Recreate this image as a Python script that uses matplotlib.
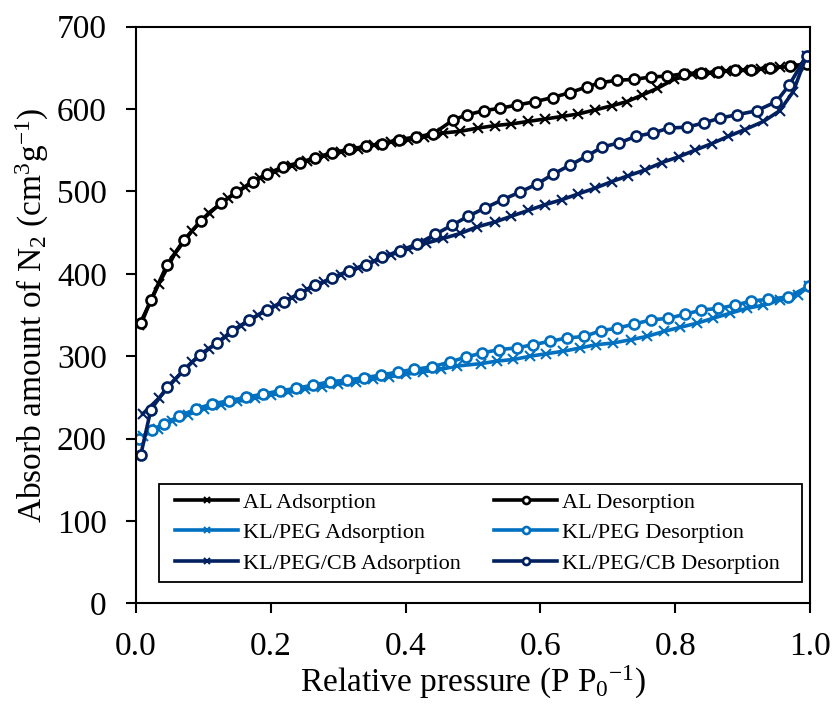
import matplotlib
matplotlib.use("Agg")
import matplotlib.pyplot as plt
from matplotlib.patches import Rectangle

plt.rcParams['font.family'] = ['Liberation Serif', 'DejaVu Serif']
plt.rcParams['mathtext.fontset'] = 'custom'
plt.rcParams['mathtext.rm'] = 'Liberation Serif'
plt.rcParams['mathtext.it'] = 'Liberation Serif:italic'

# ---- data ----
al_des_x = [0.008, 0.022, 0.046, 0.071, 0.096, 0.126, 0.149, 0.173, 0.194, 0.218, 0.243, 0.266, 0.291,
            0.316, 0.341, 0.365, 0.390, 0.415, 0.441, 0.471, 0.491, 0.516, 0.540, 0.566, 0.592, 0.618,
            0.644, 0.669, 0.689, 0.714, 0.739, 0.764, 0.788, 0.813, 0.838, 0.864, 0.889, 0.913, 0.940,
            0.970, 0.995]
al_des_y = [340, 368, 411, 441, 464, 486, 499, 512, 521, 530, 535, 541, 547, 551, 555, 558, 563, 566,
            570, 587, 593, 598, 601, 605, 609, 614, 620, 627, 632, 635, 636, 639, 640, 643, 644, 645,
            647, 648, 650, 652, 655]

al_ads_x = [0.005, 0.034, 0.058, 0.083, 0.108, 0.137, 0.161, 0.184, 0.206, 0.231, 0.254, 0.279, 0.304,
            0.329, 0.353, 0.378, 0.403, 0.428, 0.456, 0.481, 0.508, 0.533, 0.557, 0.582, 0.607, 0.632,
            0.656, 0.681, 0.706, 0.728, 0.751, 0.773, 0.798, 0.825, 0.851, 0.876, 0.901, 0.927, 0.955,
            0.982, 0.997]
al_ads_y = [338, 388, 425, 452, 474, 492, 505, 516, 524, 531, 537, 543, 548, 552, 556, 560, 563, 566,
            571, 573, 577, 580, 582, 585, 588, 591, 594, 599, 604, 609, 617, 625, 636, 642, 644, 646,
            647, 649, 651, 652, 655]

peg_des_x = [0.005, 0.023, 0.041, 0.064, 0.089, 0.113, 0.138, 0.163, 0.188, 0.214, 0.238, 0.263, 0.288,
             0.313, 0.339, 0.364, 0.389, 0.413, 0.439, 0.466, 0.490, 0.514, 0.539, 0.565, 0.589, 0.614,
             0.639, 0.665, 0.690, 0.714, 0.739, 0.764, 0.790, 0.815, 0.839, 0.864, 0.889, 0.913, 0.938,
             0.968, 0.998]
peg_des_y = [200, 210, 218, 227, 236, 242, 246, 250, 254, 258, 261, 265, 269, 271, 274, 277, 281, 284,
             287, 293, 299, 304, 308, 310, 314, 318, 322, 324, 331, 334, 339, 344, 346, 351, 356, 358,
             362, 367, 369, 372, 385]

peg_ads_x = [0.010, 0.032, 0.053, 0.077, 0.101, 0.126, 0.150, 0.176, 0.201, 0.226, 0.251, 0.276, 0.300,
             0.326, 0.351, 0.376, 0.401, 0.426, 0.452, 0.476, 0.512, 0.535, 0.560, 0.585, 0.609, 0.634,
             0.659, 0.683, 0.708, 0.734, 0.758, 0.783, 0.807, 0.832, 0.856, 0.881, 0.906, 0.931, 0.955,
             0.982, 0.998]
peg_ads_y = [203, 212, 221, 229, 236, 241, 245, 249, 253, 256, 260, 263, 266, 269, 272, 275, 278, 281,
             284, 288, 291, 294, 296, 300, 303, 306, 310, 314, 316, 320, 324, 330, 335, 340, 346, 352,
             358, 362, 368, 374, 385]

cb_des_x = [0.007, 0.022, 0.046, 0.071, 0.095, 0.120, 0.143, 0.168, 0.194, 0.219, 0.243, 0.266, 0.291,
            0.316, 0.341, 0.365, 0.391, 0.417, 0.444, 0.469, 0.493, 0.518, 0.544, 0.569, 0.595, 0.619,
            0.644, 0.669, 0.692, 0.717, 0.742, 0.767, 0.791, 0.817, 0.842, 0.866, 0.891, 0.921, 0.950,
            0.969, 0.995]
cb_des_y = [180, 235, 262, 283, 302, 316, 331, 344, 356, 366, 376, 386, 395, 404, 411, 420, 428, 436,
            448, 459, 470, 480, 490, 499, 509, 521, 532, 543, 554, 559, 567, 571, 577, 578, 583, 589,
            593, 598, 609, 629, 665]

cb_ads_x = [0.010, 0.034, 0.058, 0.083, 0.108, 0.132, 0.156, 0.181, 0.206, 0.231, 0.254, 0.279, 0.304,
            0.329, 0.353, 0.378, 0.403, 0.430, 0.456, 0.481, 0.506, 0.533, 0.557, 0.582, 0.607, 0.632,
            0.656, 0.681, 0.706, 0.730, 0.755, 0.780, 0.805, 0.829, 0.854, 0.879, 0.903, 0.931, 0.955,
            0.975, 0.995]
cb_ads_y = [230, 249, 272, 293, 309, 323, 337, 350, 361, 371, 381, 390, 399, 407, 415, 423, 430, 437,
            443, 449, 457, 463, 470, 477, 484, 490, 497, 504, 512, 519, 526, 535, 542, 550, 558, 567,
            575, 585, 598, 621, 665]

labels = ["AL Adsorption", "KL/PEG Adsorption", "KL/PEG/CB Adsorption",
          "AL Desorption", "KL/PEG Desorption", "KL/PEG/CB Desorption"]
x_ticks = [0.0, 0.2, 0.4, 0.6, 0.8, 1.0]
y_ticks = [0, 100, 200, 300, 400, 500, 600, 700]

c_al = "#000000"
c_peg = "#0070C0"
c_cb = "#002060"

fig = plt.figure(figsize=(8.34, 7.04), dpi=100)
ax = fig.add_axes([136/834, 1-603.3/704, 674/834, 576.6/704])

lw = 2.6
ads_kw = dict(marker='x', markersize=6.5, markeredgewidth=1.5, linewidth=lw)
des_kw = dict(marker='o', markersize=7.2, markerfacecolor='white', markeredgewidth=1.9, linewidth=lw)

h = {}
h[labels[0]], = ax.plot(al_ads_x, al_ads_y, color=c_al, label=labels[0], **ads_kw)
h[labels[3]], = ax.plot(al_des_x, al_des_y, color=c_al, label=labels[3], **des_kw)
h[labels[1]], = ax.plot(peg_ads_x, peg_ads_y, color=c_peg, label=labels[1], **ads_kw)
h[labels[4]], = ax.plot(peg_des_x, peg_des_y, color=c_peg, label=labels[4], **des_kw)
h[labels[2]], = ax.plot(cb_ads_x, cb_ads_y, color=c_cb, label=labels[2], **ads_kw)
h[labels[5]], = ax.plot(cb_des_x, cb_des_y, color=c_cb, label=labels[5], **des_kw)

ax.set_xlim(0, 1.0)
ax.set_ylim(0, 700)
ax.set_xticks(x_ticks)
ax.set_xticklabels([f"{v:.1f}" for v in x_ticks])
ax.set_yticks(y_ticks)
ax.tick_params(direction='out', length=7, width=1.5, labelsize=24)
ax.tick_params(axis='x', pad=13)
ax.tick_params(axis='y', pad=14)
for s in ax.spines.values():
    s.set_linewidth(1.5)

ax.set_xlabel(r"Relative pressure (P P$_{0}$$^{\mathrm{-1}}$)", fontsize=24, labelpad=2)
ax.set_ylabel(r"Absorb amount of N$_{2}$ (cm$^{3}$g$^{\mathrm{-1}}$)", fontsize=24, labelpad=4)

# legend frame drawn separately (wider side padding than top/bottom)
frame = Rectangle((0.034, 0.037), 0.954, 0.170, transform=ax.transAxes,
                  facecolor='white', edgecolor='black', linewidth=1.3, zorder=4.9)
ax.add_patch(frame)
leg = ax.legend([h[l] for l in labels], labels, ncol=2, loc='center left',
                bbox_to_anchor=(0.058, 0.122),
                fontsize=16, frameon=False,
                handlelength=2.85, markerscale=0.7, labelspacing=0.45,
                borderaxespad=0, handletextpad=0.2, borderpad=0, columnspacing=1.5)
leg.set_zorder(5)

fig.savefig("out.png", dpi=100)
